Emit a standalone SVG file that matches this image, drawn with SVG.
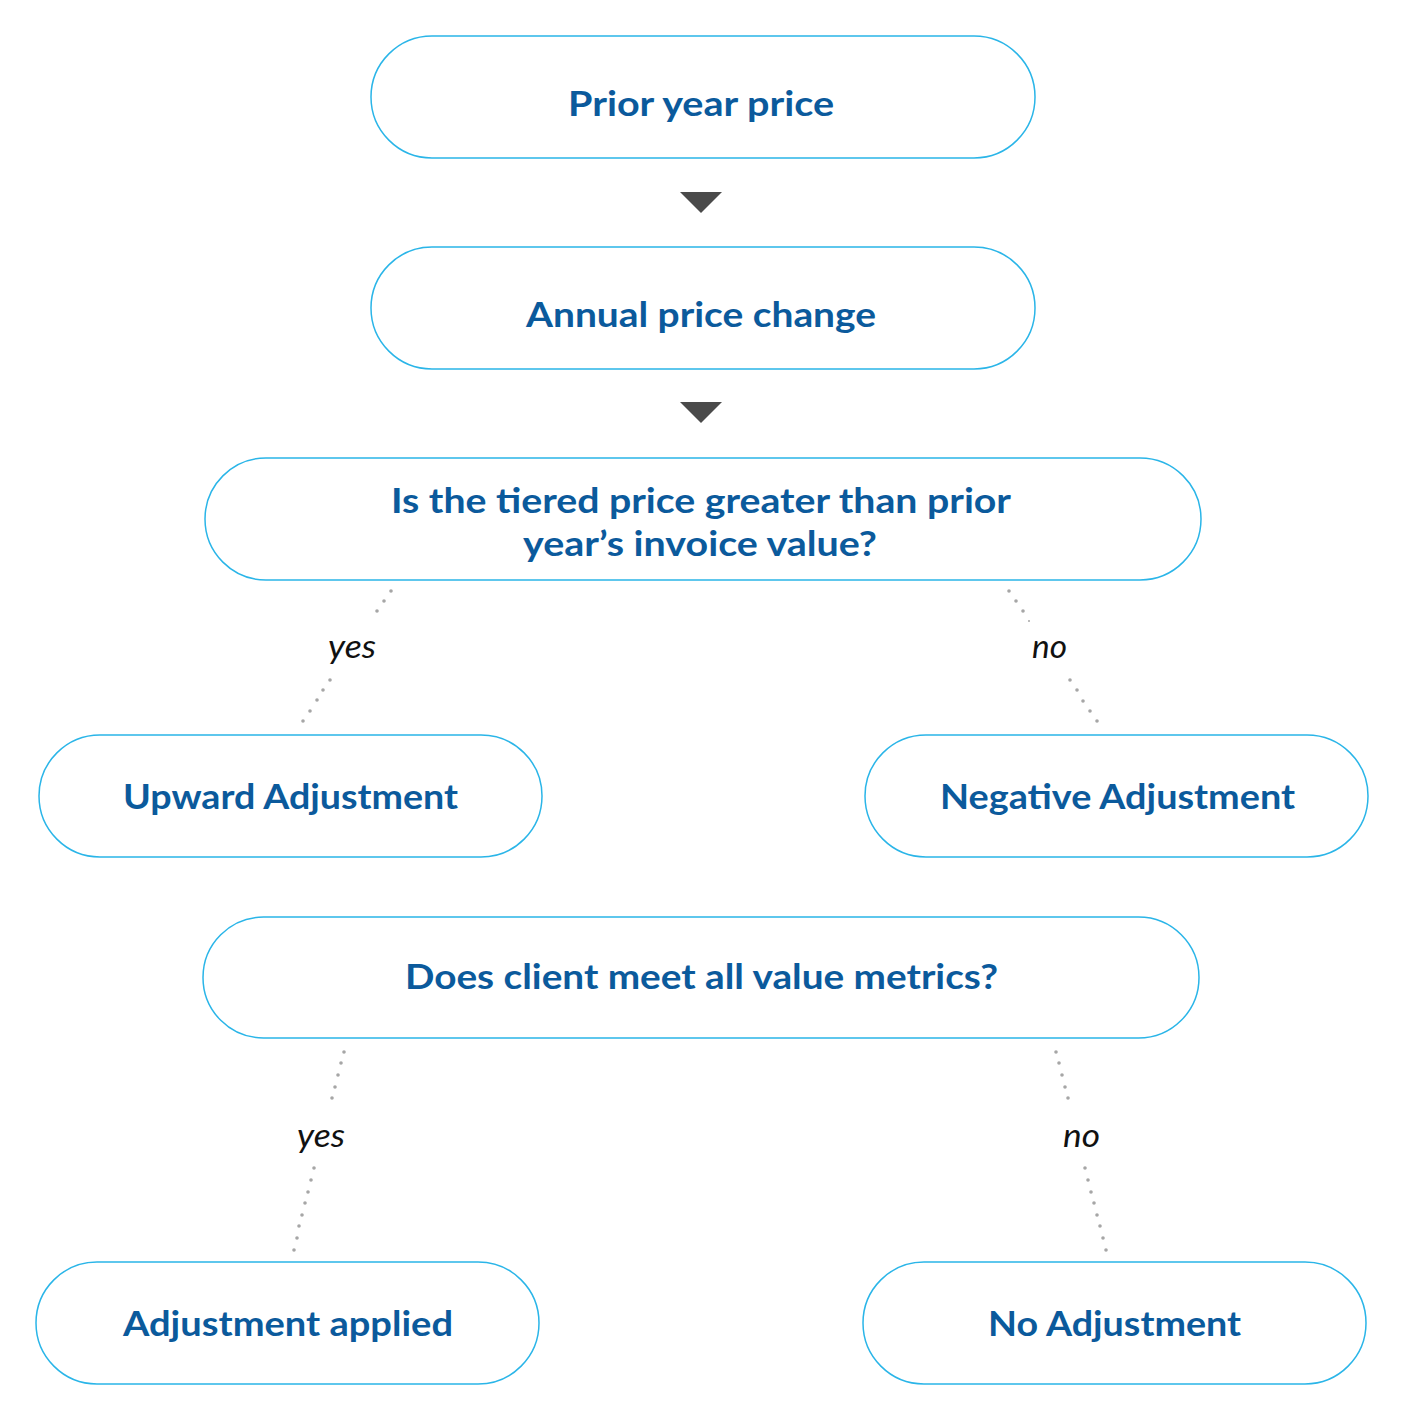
<svg xmlns="http://www.w3.org/2000/svg" width="1402" height="1420" viewBox="0 0 1402 1420">
<style>
.node rect{fill:#fff;stroke:#2ab5e8;stroke-width:1.5}
.node text{font-family:"Lato","Liberation Sans",sans-serif;font-weight:700;font-size:35px;fill:#0b5a9c;text-anchor:middle}
.lbl{font-family:"Lato","Liberation Sans",sans-serif;font-style:italic;font-size:32px;fill:#111;text-anchor:middle}
.d{fill:#a6a6a6}
.arr{fill:#4a4a4a}
</style>
<rect width="1402" height="1420" fill="#fff"/>
<g id="connectors">
<polygon class="arr" points="680,192 722,192 701,213"/>
<polygon class="arr" points="680,402 722,402 701,423"/>
<g id="c-yes1">
<circle class="d" cx="391" cy="591" r="1.8"/><circle class="d" cx="384" cy="601" r="1.8"/><circle class="d" cx="377" cy="611" r="1.8"/>
<circle class="d" cx="330" cy="680" r="1.8"/><circle class="d" cx="323" cy="690" r="1.8"/><circle class="d" cx="317" cy="700" r="1.8"/><circle class="d" cx="310" cy="711" r="1.8"/><circle class="d" cx="303" cy="721" r="1.8"/>
<text class="lbl" x="352" y="658" textLength="48" lengthAdjust="spacingAndGlyphs">yes</text>
</g>
<g id="c-no1">
<circle class="d" cx="1009" cy="591" r="1.8"/><circle class="d" cx="1016" cy="601" r="1.8"/><circle class="d" cx="1023" cy="611" r="1.8"/><circle class="d" cx="1029" cy="621" r="1"/>
<circle class="d" cx="1070" cy="680" r="1.8"/><circle class="d" cx="1077" cy="690" r="1.8"/><circle class="d" cx="1083" cy="701" r="1.8"/><circle class="d" cx="1090" cy="711" r="1.8"/><circle class="d" cx="1097" cy="721" r="1.8"/>
<text class="lbl" x="1049.5" y="658" textLength="35" lengthAdjust="spacingAndGlyphs">no</text>
</g>
<g id="c-yes2">
<circle class="d" cx="344" cy="1052" r="1.8"/><circle class="d" cx="341" cy="1063" r="1.8"/><circle class="d" cx="338" cy="1075" r="1.8"/><circle class="d" cx="335" cy="1087" r="1.8"/><circle class="d" cx="332" cy="1098" r="1.8"/>
<circle class="d" cx="314" cy="1168" r="1.8"/><circle class="d" cx="311" cy="1180" r="1.8"/><circle class="d" cx="308" cy="1192" r="1.8"/><circle class="d" cx="305" cy="1203" r="1.8"/><circle class="d" cx="302" cy="1215" r="1.8"/><circle class="d" cx="299" cy="1226" r="1.8"/><circle class="d" cx="297" cy="1238" r="1.8"/><circle class="d" cx="294" cy="1250" r="1.8"/>
<text class="lbl" x="321" y="1147" textLength="48" lengthAdjust="spacingAndGlyphs">yes</text>
</g>
<g id="c-no2">
<circle class="d" cx="1056" cy="1052" r="1.8"/><circle class="d" cx="1059" cy="1063" r="1.8"/><circle class="d" cx="1062" cy="1075" r="1.8"/><circle class="d" cx="1065" cy="1087" r="1.8"/><circle class="d" cx="1068" cy="1098" r="1.8"/>
<circle class="d" cx="1085" cy="1168" r="1.8"/><circle class="d" cx="1088" cy="1180" r="1.8"/><circle class="d" cx="1091" cy="1192" r="1.8"/><circle class="d" cx="1094" cy="1203" r="1.8"/><circle class="d" cx="1097" cy="1215" r="1.8"/><circle class="d" cx="1100" cy="1226" r="1.8"/><circle class="d" cx="1103" cy="1238" r="1.8"/><circle class="d" cx="1106" cy="1250" r="1.8"/>
<text class="lbl" x="1081.5" y="1147" textLength="37" lengthAdjust="spacingAndGlyphs">no</text>
</g>
</g>
<g id="n1" class="node"><rect x="371" y="36" width="664" height="122" rx="61"/><text x="701" y="116" textLength="266" lengthAdjust="spacingAndGlyphs">Prior year price</text></g>
<g id="n2" class="node"><rect x="371" y="247" width="664" height="122" rx="61"/><text x="701" y="327" textLength="350" lengthAdjust="spacingAndGlyphs">Annual price change</text></g>
<g id="n3" class="node"><rect x="205" y="458" width="996" height="122" rx="61"/><text x="701" y="513" textLength="620" lengthAdjust="spacingAndGlyphs">Is the tiered price greater than prior</text><text x="700" y="556" textLength="354" lengthAdjust="spacingAndGlyphs">year’s invoice value?</text></g>
<g id="n4" class="node"><rect x="39" y="735" width="503" height="122" rx="61"/><text x="290.5" y="809" textLength="335" lengthAdjust="spacingAndGlyphs">Upward Adjustment</text></g>
<g id="n5" class="node"><rect x="865" y="735" width="503" height="122" rx="61"/><text x="1117.5" y="809" textLength="355" lengthAdjust="spacingAndGlyphs">Negative Adjustment</text></g>
<g id="n6" class="node"><rect x="203" y="917" width="996" height="121" rx="60.5"/><text x="701.5" y="989" textLength="593" lengthAdjust="spacingAndGlyphs">Does client meet all value metrics?</text></g>
<g id="n7" class="node"><rect x="36" y="1262" width="503" height="122" rx="61"/><text x="288" y="1336" textLength="330" lengthAdjust="spacingAndGlyphs">Adjustment applied</text></g>
<g id="n8" class="node"><rect x="863" y="1262" width="503" height="122" rx="61"/><text x="1114.5" y="1336" textLength="253" lengthAdjust="spacingAndGlyphs">No Adjustment</text></g>
</svg>
